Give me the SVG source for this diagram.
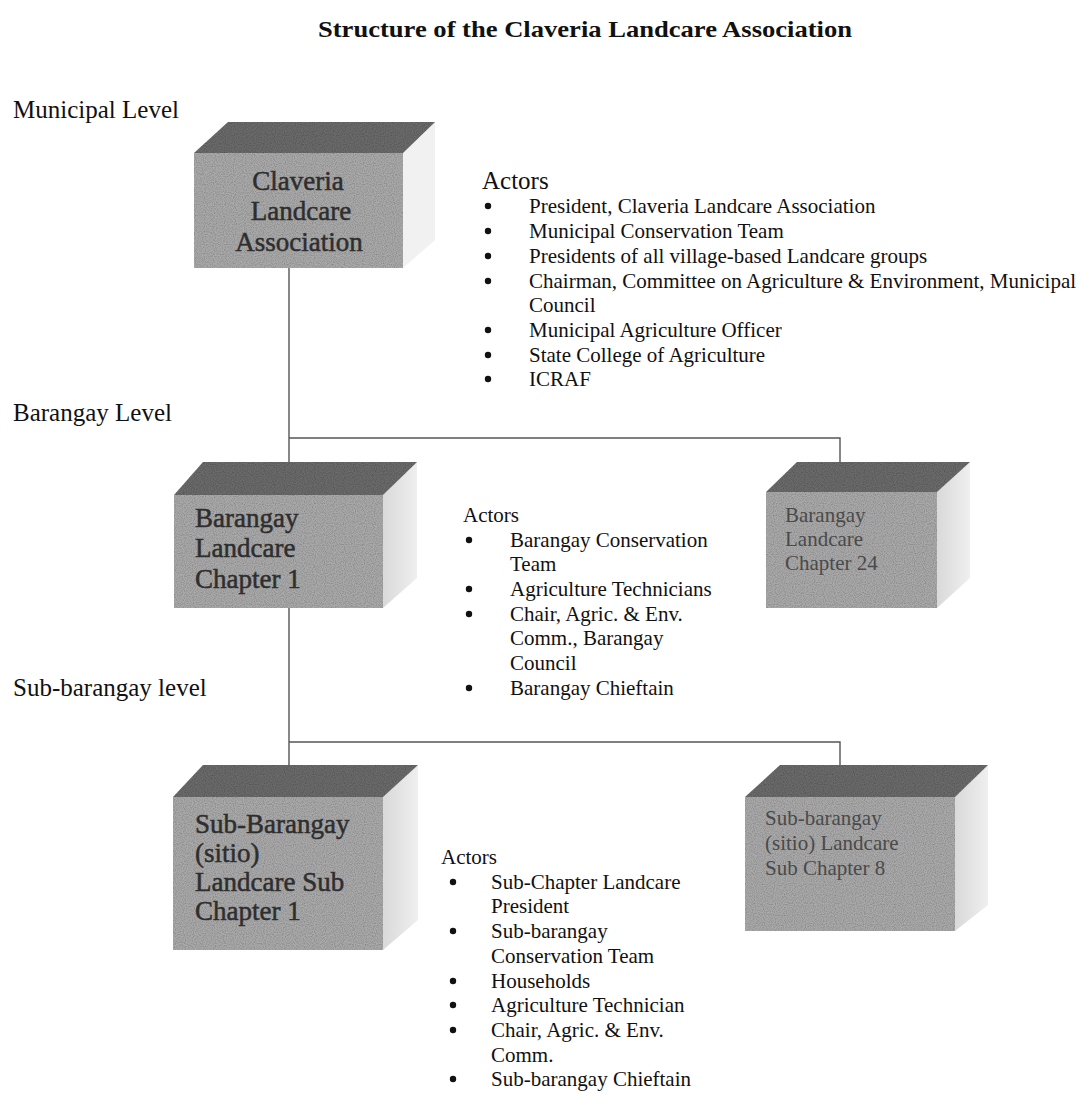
<svg xmlns="http://www.w3.org/2000/svg" width="1087" height="1094" viewBox="0 0 1087 1094">
<style>
  .bg { fill: #ffffff; }
  .title { font-family: "Liberation Serif", "Times New Roman", serif; font-size: 24px; font-weight: bold; fill: #111; }
  .level { font-family: "Liberation Serif", "Times New Roman", serif; font-size: 25px; fill: #111; }
  .actorsH { font-family: "Liberation Serif", "Times New Roman", serif; font-size: 25px; fill: #111; }
  .actorsH2 { font-family: "Liberation Serif", "Times New Roman", serif; font-size: 21px; fill: #111; }
  .item { font-family: "Liberation Serif", "Times New Roman", serif; font-size: 21px; fill: #111; }
  .bullet { fill: #111; }
  .front { fill: #a9a9a9; }
  .top { fill: #6b6b6b; }
  .side { fill: url(#sideGrad); }
  .sideFaint { fill: #f1f1f1; }
  .boxTxt { font-family: "Liberation Serif", "Times New Roman", serif; font-size: 27px; fill: #2e2e2e; stroke: #2e2e2e; stroke-width: 0.5; }
  .boxTxtLight { font-family: "Liberation Serif", "Times New Roman", serif; font-size: 21px; fill: #4a4a4a; }
  .conn { stroke: #555; stroke-width: 1.4; fill: none; }
</style>
<defs>
  <linearGradient id="sideGrad" x1="0" y1="0" x2="1" y2="0">
    <stop offset="0" stop-color="#d9d9d9"/>
    <stop offset="1" stop-color="#efefef"/>
  </linearGradient>
  <filter id="speckle" x="0" y="0" width="1" height="1">
    <feTurbulence type="fractalNoise" baseFrequency="0.9" numOctaves="1" seed="3" result="n"/>
    <feColorMatrix in="n" type="matrix" values="0 0 0 0 0  0 0 0 0 0  0 0 0 0 0  0 0 0 -0.9 0.55" result="dots"/>
    <feComposite in="dots" in2="SourceGraphic" operator="in" result="d2"/>
    <feMerge><feMergeNode in="SourceGraphic"/><feMergeNode in="d2"/></feMerge>
  </filter>
</defs>
<rect class="bg" x="0" y="0" width="1087" height="1094"/>

<text class="title" x="585" y="37" text-anchor="middle" textLength="534" lengthAdjust="spacingAndGlyphs">Structure of the Claveria Landcare Association</text>

<g id="level-labels">
  <text class="level" x="13" y="118">Municipal Level</text>
  <text class="level" x="13" y="421">Barangay Level</text>
  <text class="level" x="13" y="696">Sub-barangay level</text>
</g>

<g id="connectors">
  <path class="conn" d="M289,268 V462"/>
  <path class="conn" d="M289,438 H840 V462"/>
  <path class="conn" d="M289,608 V765"/>
  <path class="conn" d="M289,742 H840 V765"/>
</g>

<g id="node-claveria">
  <polygon class="sideFaint" points="403,153 435,122 435,240 403,268"/>
  <rect class="front" x="194" y="153" width="209" height="115" filter="url(#speckle)"/>
  <polygon class="top" points="194,153 228,122 435,122 403,153" filter="url(#speckle)"/>
  <text class="boxTxt" x="298" y="190" text-anchor="middle">Claveria</text>
  <text class="boxTxt" x="301" y="220" text-anchor="middle">Landcare</text>
  <text class="boxTxt" x="299" y="251" text-anchor="middle">Association</text>
</g>

<g id="node-barangay-1">
  <polygon class="side" points="383,495 417,462 417,578 383,608"/>
  <rect class="front" x="174" y="495" width="209" height="113" filter="url(#speckle)"/>
  <polygon class="top" points="174,495 203,462 417,462 383,495" filter="url(#speckle)"/>
  <text class="boxTxt" x="195" y="527">Barangay</text>
  <text class="boxTxt" x="195" y="557">Landcare</text>
  <text class="boxTxt" x="195" y="588">Chapter 1</text>
</g>

<g id="node-barangay-24">
  <polygon class="side" points="937,492 970,462 970,578 937,608"/>
  <rect class="front" x="766" y="492" width="171" height="116" filter="url(#speckle)"/>
  <polygon class="top" points="766,492 797,462 970,462 937,492" filter="url(#speckle)"/>
  <text class="boxTxtLight" x="785" y="522">Barangay</text>
  <text class="boxTxtLight" x="785" y="546">Landcare</text>
  <text class="boxTxtLight" x="785" y="570">Chapter 24</text>
</g>

<g id="node-subbarangay-1">
  <polygon class="side" points="383,797 418,765 418,920 383,950"/>
  <rect class="front" x="173" y="797" width="210" height="153" filter="url(#speckle)"/>
  <polygon class="top" points="173,797 203,765 418,765 383,797" filter="url(#speckle)"/>
  <text class="boxTxt" x="195" y="833">Sub-Barangay</text>
  <text class="boxTxt" x="195" y="862">(sitio)</text>
  <text class="boxTxt" x="195" y="891">Landcare Sub</text>
  <text class="boxTxt" x="195" y="920">Chapter 1</text>
</g>

<g id="node-subbarangay-8">
  <polygon class="side" points="955,797 988,765 988,905 955,931"/>
  <rect class="front" x="745" y="797" width="210" height="134" filter="url(#speckle)"/>
  <polygon class="top" points="745,797 780,765 988,765 955,797" filter="url(#speckle)"/>
  <text class="boxTxtLight" x="765" y="825">Sub-barangay</text>
  <text class="boxTxtLight" x="765" y="850">(sitio) Landcare</text>
  <text class="boxTxtLight" x="765" y="875">Sub Chapter 8</text>
</g>

<g id="actors-municipal">
  <text class="actorsH" x="482" y="189">Actors</text>
  <circle class="bullet" cx="488" cy="206" r="3.2"/>
  <text class="item" x="529" y="213">President, Claveria Landcare Association</text>
  <circle class="bullet" cx="488" cy="231" r="3.2"/>
  <text class="item" x="529" y="238">Municipal Conservation Team</text>
  <circle class="bullet" cx="488" cy="256" r="3.2"/>
  <text class="item" x="529" y="263">Presidents of all village-based Landcare groups</text>
  <circle class="bullet" cx="488" cy="281" r="3.2"/>
  <text class="item" x="529" y="288">Chairman, Committee on Agriculture &amp; Environment, Municipal</text>
  <text class="item" x="529" y="312">Council</text>
  <circle class="bullet" cx="488" cy="330" r="3.2"/>
  <text class="item" x="529" y="337">Municipal Agriculture Officer</text>
  <circle class="bullet" cx="488" cy="355" r="3.2"/>
  <text class="item" x="529" y="362">State College of Agriculture</text>
  <circle class="bullet" cx="488" cy="379" r="3.2"/>
  <text class="item" x="529" y="386">ICRAF</text>
</g>

<g id="actors-barangay">
  <text class="actorsH2" x="463" y="522">Actors</text>
  <circle class="bullet" cx="469" cy="540" r="3.2"/>
  <text class="item" x="510" y="547">Barangay Conservation</text>
  <text class="item" x="510" y="571">Team</text>
  <circle class="bullet" cx="469" cy="589" r="3.2"/>
  <text class="item" x="510" y="596">Agriculture Technicians</text>
  <circle class="bullet" cx="469" cy="614" r="3.2"/>
  <text class="item" x="510" y="621">Chair, Agric. &amp; Env.</text>
  <text class="item" x="510" y="645">Comm., Barangay</text>
  <text class="item" x="510" y="670">Council</text>
  <circle class="bullet" cx="469" cy="688" r="3.2"/>
  <text class="item" x="510" y="695">Barangay Chieftain</text>
</g>

<g id="actors-subbarangay">
  <text class="actorsH2" x="441" y="864">Actors</text>
  <circle class="bullet" cx="453" cy="882" r="3.2"/>
  <text class="item" x="491" y="889">Sub-Chapter Landcare</text>
  <text class="item" x="491" y="913">President</text>
  <circle class="bullet" cx="453" cy="931" r="3.2"/>
  <text class="item" x="491" y="938">Sub-barangay</text>
  <text class="item" x="491" y="963">Conservation Team</text>
  <circle class="bullet" cx="453" cy="981" r="3.2"/>
  <text class="item" x="491" y="988">Households</text>
  <circle class="bullet" cx="453" cy="1005" r="3.2"/>
  <text class="item" x="491" y="1012">Agriculture Technician</text>
  <circle class="bullet" cx="453" cy="1030" r="3.2"/>
  <text class="item" x="491" y="1037">Chair, Agric. &amp; Env.</text>
  <text class="item" x="491" y="1062">Comm.</text>
  <circle class="bullet" cx="453" cy="1079" r="3.2"/>
  <text class="item" x="491" y="1086">Sub-barangay Chieftain</text>
</g>
</svg>
